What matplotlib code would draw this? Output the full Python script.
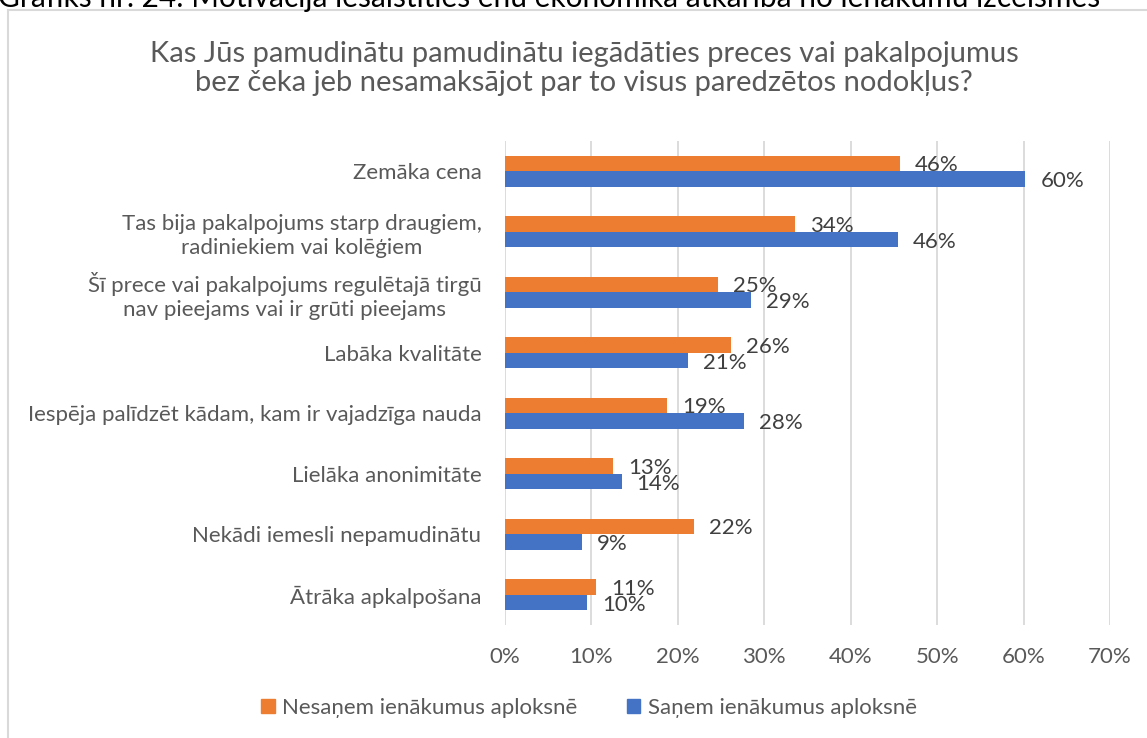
import matplotlib
matplotlib.use("Agg")
import matplotlib.pyplot as plt
from matplotlib.patches import Rectangle, Patch
import numpy as np

plt.rcParams['font.family'] = ['Lato', 'DejaVu Sans']

categories = [
    "Zemāka cena",
    "Tas bija pakalpojums starp draugiem,\nradiniekiem vai kolēģiem",
    "Šī prece vai pakalpojums regulētajā tirgū\nnav pieejams vai ir grūti pieejams",
    "Labāka kvalitāte",
    "Iespēja palīdzēt kādam, kam ir vajadzīga nauda",
    "Lielāka anonimitāte",
    "Nekādi iemesli nepamudinātu",
    "Ātrāka apkalpošana",
]
series_names = ["Nesaņem ienākumus aploksnē", "Saņem ienākumus aploksnē"]
nesanem = [45.7, 33.6, 24.7, 26.2, 18.8, 12.5, 21.9, 10.5]
sanem = [60.2, 45.5, 28.5, 21.2, 27.7, 13.5, 8.9, 9.5]
nesanem_labels = [46, 34, 25, 26, 19, 13, 22, 11]
sanem_labels = [60, 46, 29, 21, 28, 14, 9, 10]
xticks = [0, 10, 20, 30, 40, 50, 60, 70]

title = ("Kas Jūs pamudinātu pamudinātu iegādāties preces vai pakalpojumus\n"
         "bez čeka jeb nesamaksājot par to visus paredzētos nodokļus?")
caption = "Grafiks nr. 24: Motivācija iesaistīties ēnu ekonomikā atkarībā no ienākumu izcelsmes"

ORANGE = "#ED7D31"
BLUE = "#4472C4"
GREY_TXT = "#595959"
LBL_TXT = "#404040"
GRID = "#D9D9D9"
FS = 16

W, H = 1147, 738
fig = plt.figure(figsize=(W / 100, H / 100), dpi=100)

# chart border
fig.patches.append(Rectangle((8 / W, -0.05), 1.1, 1 - 10 / H + 0.05,
                             transform=fig.transFigure, fill=False,
                             edgecolor=GRID, linewidth=1.5))

# caption of the page, cut off at the top edge as in the source image
fig.text(-2 / W, 1 - 7 / H, caption, fontsize=21.5, color="black",
         ha="left", va="baseline")

ax = fig.add_axes([505 / W, 1 - 625 / H, (1110 - 505) / W, (625 - 141) / H])

y = np.arange(len(categories))
h = 0.26
ax.barh(y - h / 2, nesanem, height=h, color=ORANGE, label=series_names[0])
ax.barh(y + h / 2, sanem, height=h, color=BLUE, label=series_names[1])

ax.set_xlim(0, 70)
ax.set_ylim(len(categories) - 0.5, -0.5)
ax.set_xticks(xticks)
ax.set_xticklabels([f"{t}%" for t in xticks], fontsize=FS, color=GREY_TXT)
ax.set_yticks(y)
ax.set_yticklabels(categories, fontsize=FS, color=GREY_TXT,
                   multialignment="center", linespacing=1.25)
ax.tick_params(axis="both", length=0)
ax.tick_params(axis="y", pad=17)
ax.tick_params(axis="x", pad=16)
for s in ax.spines.values():
    s.set_visible(False)
ax.grid(axis="x", color=GRID, linewidth=1.3)
ax.set_axisbelow(True)

for i in range(len(categories)):
    ax.annotate(f"{nesanem_labels[i]}%", (nesanem[i], y[i] - h / 2),
                xytext=(15, -2), textcoords="offset pixels",
                ha="left", va="center", fontsize=FS, color=LBL_TXT)
    ax.annotate(f"{sanem_labels[i]}%", (sanem[i], y[i] + h / 2),
                xytext=(15, -2), textcoords="offset pixels",
                ha="left", va="center", fontsize=FS, color=LBL_TXT)

fig.text(584 / W, 1 - 68.5 / H, title, fontsize=21, color=GREY_TXT,
         ha="center", va="center", linespacing=1.15)

handles = [Patch(color=ORANGE), Patch(color=BLUE)]
fig.legend(handles, series_names, loc="center", ncol=2,
           bbox_to_anchor=(589 / W, 1 - 708 / H), frameon=False,
           fontsize=FS, labelcolor=GREY_TXT, handlelength=0.62,
           handleheight=0.62, handletextpad=0.35, columnspacing=2.2)

fig.savefig("out.png", dpi=100)
